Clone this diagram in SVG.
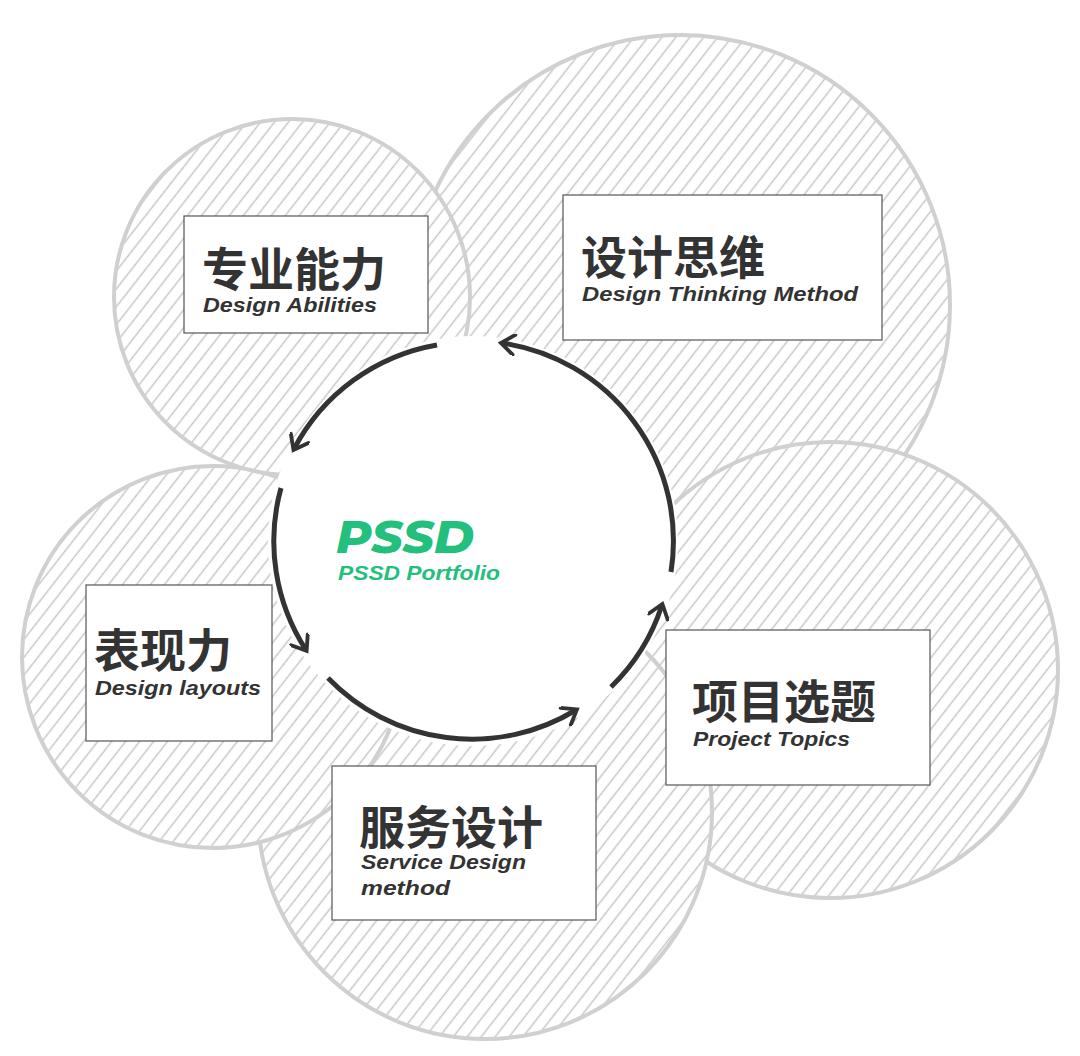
<svg xmlns="http://www.w3.org/2000/svg" width="1080" height="1056" viewBox="0 0 1080 1056">
<defs>
<pattern id="h" width="11" height="20" patternUnits="userSpaceOnUse" patternTransform="rotate(38)">
<rect width="11" height="20" fill="#fff"/>
<path d="M5.5,0 V20" stroke="#c4c4c4" stroke-width="1.4"/>
</pattern>
<marker id="a" viewBox="0 0 20 20" refX="14" refY="10" markerWidth="22" markerHeight="22" markerUnits="userSpaceOnUse" orient="auto">
<path d="M3,1 L15,10 L3,19" fill="none" stroke="#333" stroke-width="3.5" stroke-linecap="round"/>
</marker>
<style>
.c{fill:url(#h);stroke:#d0d0d0;stroke-width:4}
.b{fill:#fff;stroke:#555;stroke-width:1.2}
.t{font-family:"Noto Sans CJK SC",sans-serif;font-weight:700;font-size:46px;fill:#333}
.s{font-family:"Liberation Sans",sans-serif;font-weight:700;font-style:italic;font-size:20px;fill:#333}
.arc{fill:none;stroke:#333;stroke-width:5;marker-end:url(#a)}
</style>
</defs>
<g id="bubbles">
<circle class="c" cx="680" cy="305" r="270"/>
<circle class="c" cx="830" cy="670" r="228"/>
<circle class="c" cx="485" cy="812" r="227"/>
<circle class="c" cx="213" cy="657" r="191"/>
<circle class="c" cx="292" cy="297" r="178"/>
</g>
<g id="center">
<circle cx="473" cy="541" r="205" fill="#fff"/>
<text x="336" y="553" font-family="Montserrat,'Open Sans',sans-serif" font-weight="800" font-style="italic" font-size="46" fill="#22c07c" textLength="138" lengthAdjust="spacingAndGlyphs">PSSD</text>
<text x="338" y="580" font-family="'Liberation Sans',sans-serif" font-weight="700" font-style="italic" font-size="20" fill="#22c07c" textLength="162" lengthAdjust="spacingAndGlyphs">PSSD Portfolio</text>
</g>
<g id="connectors">
<path class="arc" d="M437,345 A200,200 0 0 0 294,449"/>
<path class="arc" d="M281,488 A200,200 0 0 0 306,650"/>
<path class="arc" d="M328,678 A200,200 0 0 0 576,710"/>
<path class="arc" d="M611,687 A200,200 0 0 0 662,605"/>
<path class="arc" d="M671,572 A200,200 0 0 0 502,343"/>
</g>
<g id="n1"><rect class="b" x="184" y="216" width="244" height="117"/><text class="t" x="202" y="286">专业能力</text><text class="s" x="203" y="312" textLength="174" lengthAdjust="spacingAndGlyphs">Design Abilities</text></g>
<g id="n2"><rect class="b" x="563" y="195" width="319" height="145"/><text class="t" x="581" y="274">设计思维</text><text class="s" x="582" y="301" textLength="276" lengthAdjust="spacingAndGlyphs">Design Thinking Method</text></g>
<g id="n3"><rect class="b" x="86" y="585" width="186" height="156"/><text class="t" x="94" y="667">表现力</text><text class="s" x="95" y="695" textLength="166" lengthAdjust="spacingAndGlyphs">Design layouts</text></g>
<g id="n4"><rect class="b" x="666" y="630" width="264" height="155"/><text class="t" x="692" y="718">项目选题</text><text class="s" x="693" y="746" textLength="157" lengthAdjust="spacingAndGlyphs">Project Topics</text></g>
<g id="n5"><rect class="b" x="332" y="766" width="264" height="154"/><text class="t" x="359" y="844">服务设计</text><text class="s" x="361" y="869" textLength="165" lengthAdjust="spacingAndGlyphs">Service Design</text><text class="s" x="361" y="895" textLength="89" lengthAdjust="spacingAndGlyphs">method</text></g>
</svg>
